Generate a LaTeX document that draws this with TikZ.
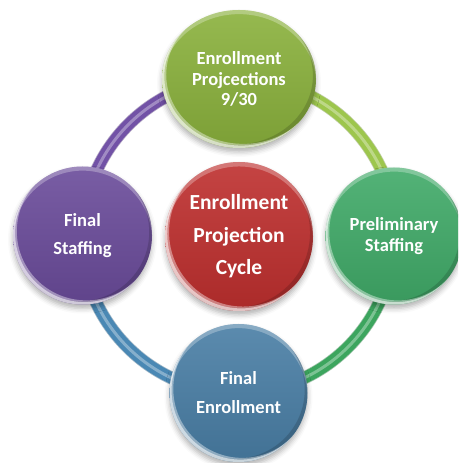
\documentclass[tikz,border=0pt]{standalone}
\usepackage{fontspec}
\setmainfont{Carlito}
\usetikzlibrary{shapes.geometric,shadows.blur}

\definecolor{ballT}{HTML}{8AB13C}
\definecolor{ballL}{HTML}{6A4B9A}
\definecolor{ballC}{HTML}{BE2F2E}
\definecolor{ballR}{HTML}{40AA68}
\definecolor{ballB}{HTML}{497EA5}
\definecolor{arcTR}{HTML}{9DC64D}
\definecolor{arcRB}{HTML}{3CA55E}
\definecolor{arcBL}{HTML}{4A88B4}
\definecolor{arcLT}{HTML}{7252A6}

\begin{document}
\begin{tikzpicture}[x=1pt,y=1pt,
  % glossy ball: #1 colour, #2 x radius, #3 y radius
  ball/.style n args={3}{
    shape=ellipse, inner sep=0pt, draw=none,
    minimum width=2*#2, minimum height=2*#3,
    top color=#1!90!white, bottom color=#1!90!black,
    text=white, align=center,
    blur shadow={shadow xshift=0pt, shadow yshift=-4pt,
                 shadow blur radius=5pt, shadow opacity=30},
    path picture={
      % light sheen along the upper rim
      \fill[white, opacity=.28, even odd rule]
        ([shift={(-#2-5,-#3-5)}]path picture bounding box.center) rectangle
        ([shift={(#2+5,#3+5)}]path picture bounding box.center)
        ([shift={(0,{-0.06*#3})}]path picture bounding box.center)
          ellipse[x radius=#2, y radius=#3];
      % darker rim on the lower right
      \fill[black, opacity=.15, even odd rule]
        ([shift={(-#2-5,-#3-5)}]path picture bounding box.center) rectangle
        ([shift={(#2+5,#3+5)}]path picture bounding box.center)
        ([shift={({-0.04*#2},{0.05*#3})}]path picture bounding box.center)
          ellipse[x radius=#2, y radius=#3];
      % bright glint on the lower left
      \fill[white, opacity=.40, even odd rule]
        ([shift={(-#2-5,-#3-5)}]path picture bounding box.center) rectangle
        ([shift={(#2+5,#3+5)}]path picture bounding box.center)
        ([shift={({0.055*#2},{0.06*#3})}]path picture bounding box.center)
          ellipse[x radius=#2, y radius=#3];
      \fill[white, opacity=.55, even odd rule]
        ([shift={(-#2-5,-#3-5)}]path picture bounding box.center) rectangle
        ([shift={(#2+5,#3+5)}]path picture bounding box.center)
        ([shift={({0.03*#2},{0.035*#3})}]path picture bounding box.center)
          ellipse[x radius=#2, y radius=#3];
    }
  },
  outer/.style={font=\fontsize{18.5}{20.5}\selectfont\bfseries},
  % ring segment with a light stripe along it
  ring/.style={line width=11.5pt, draw=#1,
    preaction={draw=#1!75!black, line width=13pt, opacity=.45},
    postaction={draw=#1!45!white, line width=3pt, opacity=.6}}
]
\clip (0,0) rectangle (458,463);

% ring coordinates of the cycle stations
\coordinate (T0) at (239,384);
\coordinate (R0) at (394,227);
\coordinate (B0) at (238.5,70);
\coordinate (L0) at (82.5,227.5);

% ring segments, clockwise from each station
\draw[ring=arcLT] (L0) arc[start angle=180, end angle=90, radius=157];
\draw[ring=arcTR] (T0) arc[start angle=90, end angle=0, radius=157];
\draw[ring=arcRB] (R0) arc[start angle=0, end angle=-90, radius=157];
\draw[ring=arcBL] (B0) arc[start angle=270, end angle=180, radius=157];

% stations
\node[ball={ballT}{77}{69}, outer] (T) at (T0) {Enrollment\\Projcections\\9/30};
\node[ball={ballL}{69.5}{69}, font=\fontsize{18.5}{28}\selectfont\bfseries] (L) at (L0) {Final\\Staffing};
\node[ball={ballR}{68.5}{68.5}, outer] (R) at (R0) {Preliminary\\Staffing};
\node[ball={ballB}{69}{69}, font=\fontsize{18.5}{29}\selectfont\bfseries] (B) at (B0) {Final\\Enrollment};

% centre
\node[ball={ballC}{74}{74.5}, font=\fontsize{21.5}{32.5}\selectfont\bfseries] (C) at (239,226.5) {Enrollment\\Projection\\Cycle};
\end{tikzpicture}
\end{document}
